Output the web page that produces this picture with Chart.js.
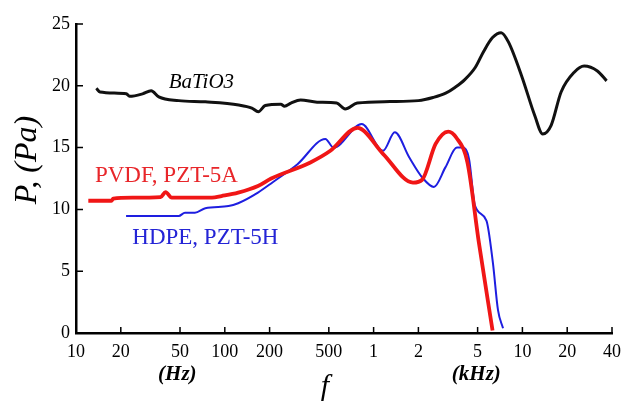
<!DOCTYPE html>
<html>
<head>
<meta charset="utf-8">
<script src="https://cdn.jsdelivr.net/npm/chart.js@4.4.0/dist/chart.umd.min.js"></script>
<style>
  html, body { margin: 0; padding: 0; background: #fff; }
  #wrap { width: 629px; height: 401px; }
</style>
</head>
<body>
<div id="wrap"><canvas id="pChart"></canvas></div>
<script>
// ===== DATA =====

// x tick positions (Hz) and what is printed under them
const tickFreqs = [10, 20, 50, 100, 200, 500, 1000, 2000, 5000, 10000, 20000, 40000];
const tickNames = ['10', '20', '50', '100', '200', '500', '1', '2', '5', '10', '20', '40'];
const yTicks = [0, 5, 10, 15, 20, 25];

// BaTiO3 (black)
const batioFreq = [13.7, 14.5, 21.8, 22.9, 28, 32, 36, 49, 74, 124, 152, 168, 187, 238, 252, 278, 323, 417, 565, 644, 776, 1290, 2000, 2510, 3050, 3500, 4100, 4830, 5500, 6300, 7200, 8050, 9880, 12100, 13700, 15600, 18200, 22300, 26000, 31900, 36800];
const batioP = [19.8, 19.5, 19.35, 19.15, 19.35, 19.6, 19.1, 18.8, 18.7, 18.45, 18.2, 17.9, 18.4, 18.5, 18.35, 18.6, 18.86, 18.67, 18.6, 18.13, 18.6, 18.72, 18.8, 19.05, 19.4, 19.85, 20.5, 21.5, 22.8, 23.9, 24.3, 23.55, 20.8, 17.6, 16.1, 16.8, 19.5, 21.1, 21.6, 21.2, 20.4];

// PVDF, PZT-5A (red)
const pvdfFreq = [12.1, 17.3, 17.8, 24, 37, 40, 44, 82, 95, 123, 167, 205, 376, 512, 780, 1156, 1840, 2120, 2610, 3170, 3600, 4270, 5100, 6300];
const pvdfP = [10.7, 10.7, 10.87, 10.95, 11.0, 11.4, 10.95, 10.95, 11.08, 11.36, 11.9, 12.5, 13.8, 14.74, 16.6, 14.5, 12.17, 12.4, 15.3, 16.3, 15.8, 13.8, 7.3, 0.2];

// HDPE, PZT-5H (blue)
const hdpeFreq = [21.7, 49, 54, 63, 74, 106, 123, 167, 210, 308, 474, 538, 832, 1156, 1388, 1738, 2124, 2543, 3037, 3628, 3958, 4380, 4800, 5730, 6335, 6850, 7410];
const hdpeP = [9.46, 9.46, 9.73, 9.73, 10.1, 10.27, 10.5, 11.36, 12.2, 13.66, 15.7, 15.0, 16.9, 14.74, 16.24, 14.2, 12.58, 11.82, 13.4, 15.0, 15.0, 14.07, 10.3, 9.1, 5.67, 1.87, 0.38];

// FORMAT POINTS
function toPoints(fs, ps) {
  return fs.map((f, i) => ({ x: f, y: ps[i] }));
}

const SERIF = '"Liberation Serif", "Times New Roman", serif';

// INWARD TICKS + EXTRA TEXT
const extras = {
  id: 'extras',
  afterDraw(chart) {
    const { ctx, scales: { x, y } } = chart;
    const bottom = y.getPixelForValue(0);
    const left = x.getPixelForValue(10);

    ctx.save();
    ctx.strokeStyle = '#000';
    ctx.lineWidth = 1.5;
    ctx.beginPath();
    tickFreqs.slice(1).forEach(f => {
      const px = x.getPixelForValue(f);
      ctx.moveTo(px, bottom);
      ctx.lineTo(px, bottom - 6);
    });
    yTicks.slice(1).forEach(v => {
      const py = y.getPixelForValue(v);
      ctx.moveTo(left, py);
      ctx.lineTo(left + 7, py);
    });
    ctx.stroke();

    // curve names
    ctx.textBaseline = 'middle';
    ctx.textAlign = 'left';
    ctx.fillStyle = '#000';
    ctx.font = 'italic 21px ' + SERIF;
    ctx.fillText('BaTiO3', x.getPixelForValue(42), y.getPixelForValue(20.3));

    ctx.fillStyle = '#e8262a';
    ctx.font = '23px ' + SERIF;
    ctx.fillText('PVDF, PZT-5A', x.getPixelForValue(13.4), y.getPixelForValue(12.7));

    ctx.fillStyle = '#2424d6';
    ctx.fillText('HDPE, PZT-5H', x.getPixelForValue(23.9), y.getPixelForValue(7.7));

    // axis titles
    ctx.fillStyle = '#000';
    ctx.textAlign = 'center';
    ctx.font = 'italic 600 21px ' + SERIF;
    ctx.fillText('(Hz)', x.getPixelForValue(48), 375);
    ctx.fillText('(kHz)', x.getPixelForValue(4900), 375);
    ctx.font = 'italic 30px ' + SERIF;
    ctx.fillText('f', x.getPixelForValue(470), 387);

    ctx.translate(28, 160);
    ctx.rotate(-Math.PI / 2);
    ctx.font = 'italic 32px ' + SERIF;
    ctx.fillText('P, (Pa)', 0, 0);
    ctx.restore();
  }
};

// ===== CHART =====
const ctx = document.getElementById('pChart');

new Chart(ctx, {
  type: 'line',
  data: {
    datasets: [
      {
        label: 'BaTiO3',
        data: toPoints(batioFreq, batioP),
        borderColor: '#111',
        borderWidth: 3,
        pointRadius: 0,
        cubicInterpolationMode: 'monotone'
      },
      {
        label: 'PVDF, PZT-5A',
        data: toPoints(pvdfFreq, pvdfP),
        borderColor: '#f01616',
        borderWidth: 3.8,
        pointRadius: 0,
        cubicInterpolationMode: 'monotone'
      },
      {
        label: 'HDPE, PZT-5H',
        data: toPoints(hdpeFreq, hdpeP),
        borderColor: '#1e1ee0',
        borderWidth: 2,
        pointRadius: 0,
        cubicInterpolationMode: 'monotone'
      }
    ]
  },
  options: {
    responsive: true,
    maintainAspectRatio: false,
    animation: false,
    layout: {
      padding: { top: 24, right: 11, left: 0, bottom: 0 }
    },
    plugins: {
      legend: { display: false },
      tooltip: { enabled: false }
    },
    scales: {
      x: {
        type: 'logarithmic',
        min: 10,
        max: 40000,
        afterBuildTicks: scale => {
          scale.ticks = tickFreqs.map(v => ({ value: v }));
        },
        afterFit: scale => { scale.height = 68; },
        ticks: {
          color: '#000',
          font: { family: SERIF, size: 18 },
          padding: 8,
          maxRotation: 0,
          autoSkip: false,
          callback: v => tickNames[tickFreqs.indexOf(v)]
        },
        grid: { display: false, drawTicks: false },
        border: { display: true, color: '#000', width: 2.5 }
      },
      y: {
        min: 0,
        max: 25,
        afterBuildTicks: scale => {
          scale.ticks = yTicks.map(v => ({ value: v }));
        },
        afterFit: scale => { scale.width = 76; },
        ticks: {
          color: '#000',
          font: { family: SERIF, size: 18 },
          padding: 6
        },
        grid: { display: false, drawTicks: false },
        border: { display: true, color: '#000', width: 2.5 }
      }
    }
  },
  plugins: [extras]
});
</script>
</body>
</html>
